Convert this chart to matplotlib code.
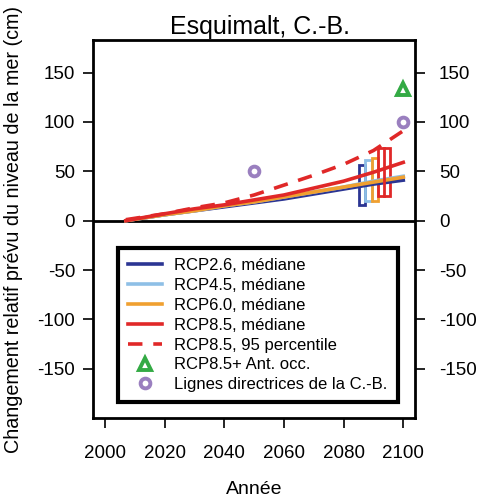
import matplotlib
matplotlib.use('Agg')
from matplotlib import pyplot as plt
from matplotlib.patches import Rectangle

plt.rcParams['font.family'] = ['Liberation Sans', 'DejaVu Sans']
plt.rcParams['axes.unicode_minus'] = False

years = [2007, 2020, 2030, 2040, 2050, 2060, 2070, 2080, 2090, 2100]
rcp26 = [0, 6, 10, 14, 18, 22, 27, 32, 37, 41]
rcp45 = [0, 6, 10, 15, 19, 24, 29, 34, 40, 45]
rcp60 = [0, 6, 10, 15, 19, 24, 29, 34, 39, 44]
rcp85 = [0, 7, 12, 16, 21, 26, 33, 40, 49, 59]
rcp85_p95 = [1, 7, 13, 18, 26, 36, 46, 57, 71, 91]

# 2081-2100 ranges (low, high) drawn as boxes
box_x = [2086, 2088.4, 2090.6, 2093.6]
box_w = [2.0, 2.2, 2.0, 4.0]
box_lo = [16, 20, 20, 25]
box_hi = [56, 61, 63, 74]

ant_year, ant_val = [2100], [133]
bc_years, bc_vals = [2050, 2100], [50, 100]

yticks = [-150, -100, -50, 0, 50, 100, 150]
xticks = [2000, 2020, 2040, 2060, 2080, 2100]

c26, c45, c60, c85 = '#2b3593', '#8ebfe6', '#f0a030', '#e02828'

fig = plt.figure(figsize=(4.8, 4.99), dpi=100)
ax = fig.add_axes([0.194, 0.162, 0.671, 0.758])

ax.axhline(0, color='black', lw=2)
ax.plot(years, rcp26, color=c26, lw=2.6, label='RCP2.6, médiane')
ax.plot(years, rcp45, color=c45, lw=2.6, label='RCP4.5, médiane')
ax.plot(years, rcp60, color=c60, lw=2.6, label='RCP6.0, médiane')
ax.plot(years, rcp85, color=c85, lw=2.6, label='RCP8.5, médiane')
ax.plot(years, rcp85_p95, color=c85, lw=2.6, ls=(0, (4, 3)), label='RCP8.5, 95 percentile')

for x, lo, hi, w, c in zip(box_x, box_lo, box_hi, box_w, [c26, c45, c60, c85]):
    ax.add_patch(Rectangle((x - w / 2, lo), w, hi - lo, fill=False, ec=c, lw=2))
ax.plot([box_x[3], box_x[3]], [box_lo[3], box_hi[3]], color=c85, lw=2)

ax.plot(ant_year, ant_val, ls='none', marker='^', ms=8, mfc='white', mec='#33aa44', mew=2.8,
        label='RCP8.5+ Ant. occ.')
ax.plot(bc_years, bc_vals, ls='none', marker='o', ms=7, mfc='white', mec='#9a7fbf', mew=2.8,
        label='Lignes directrices de la C.-B.')

ax.set_xlim(1996, 2104)
ax.set_ylim(-200, 183)
ax.set_xticks(xticks)
ax.set_yticks(yticks)
ax.tick_params(axis='both', direction='out', length=7, width=1.2, labelsize=13.5)
ax.tick_params(axis='x', pad=12)
ax.tick_params(axis='y', pad=6)
for s in ax.spines.values():
    s.set_linewidth(2)

# right-hand axis, same scale, labels set further out
ax2 = ax.twinx()
ax2.set_ylim(ax.get_ylim())
ax2.set_yticks(yticks)
ax2.tick_params(axis='y', direction='out', length=7, width=1.2, labelsize=13.5, pad=10)
for s in ax2.spines.values():
    s.set_visible(False)

ax.set_title('Esquimalt, C.-B.', fontsize=18, pad=4, x=0.519)
ax.set_xlabel('Année', fontsize=14, labelpad=14)
ax.set_ylabel('Changement relatif prévu du niveau de la mer (cm)', fontsize=14.2, labelpad=10)

leg = ax.legend(loc='lower center', bbox_to_anchor=(0.512, 0.042), borderaxespad=0, fontsize=12,
                frameon=True, fancybox=False, edgecolor='black', handlelength=2.0,
                handletextpad=0.75, labelspacing=0.29, borderpad=0.6, framealpha=1)
leg.get_frame().set_linewidth(3)

fig.savefig('out.png', dpi=100)
